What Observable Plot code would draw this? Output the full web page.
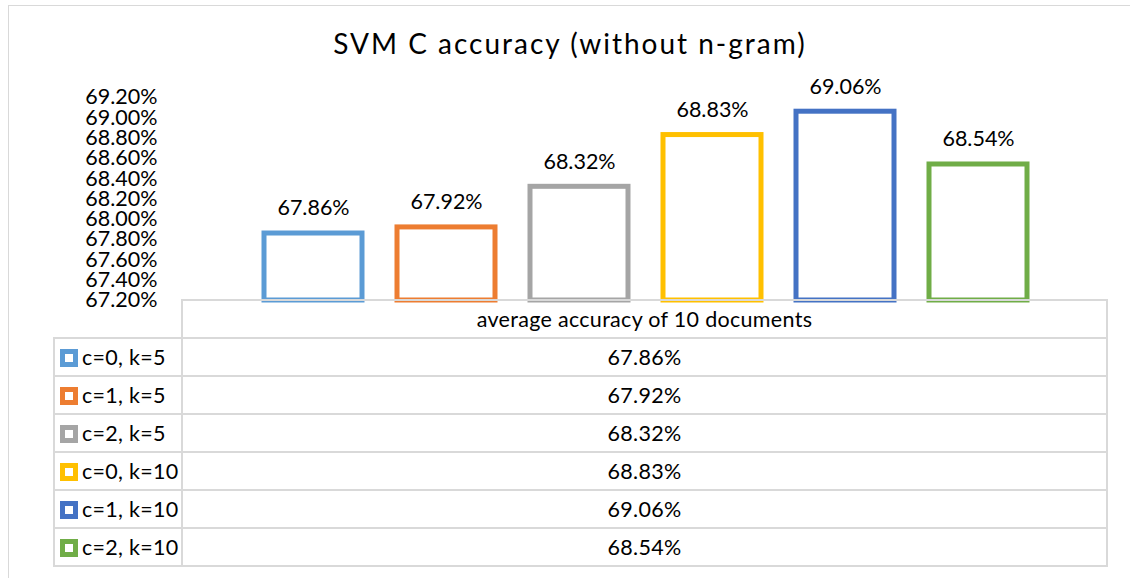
<!DOCTYPE html>
<html><head><meta charset="utf-8">
<script src="https://cdn.jsdelivr.net/npm/d3@7"></script>
<script src="https://cdn.jsdelivr.net/npm/@observablehq/plot@0.6"></script>
<style>
body{margin:0;background:#fff;font-family:Lato,sans-serif;}
#wrap{position:relative;width:1130px;height:578px;overflow:hidden;background:#fff;}
#frame{position:absolute;left:8px;top:5px;width:1300px;height:700px;border:1px solid #d9d9d9;box-sizing:border-box;}
#chart{position:absolute;left:0;top:0;}
#tbl{position:absolute;left:53px;top:299px;border-collapse:collapse;table-layout:fixed;font-size:21.5px;letter-spacing:0.3px;color:#000;font-family:Lato,sans-serif;}
#tbl td{border:2px solid #d9d9d9;height:36px;padding:0;}
#tbl td.blank{border-top:hidden;border-left:hidden;}
#tbl td.lab{padding-left:5px;white-space:nowrap;}
#tbl td.val{text-align:center;}
.sw{display:inline-block;width:8px;height:8px;border:5px solid;vertical-align:-2px;margin-right:4px;background:#fff;}
</style>
</head><body>
<div id="wrap"><div id="frame"></div><div id="chart"></div><table id="tbl"><colgroup><col style="width:128px"><col style="width:925px"></colgroup><tbody></tbody></table></div>
<script>
const series = ["c=0, k=5","c=1, k=5","c=2, k=5","c=0, k=10","c=1, k=10","c=2, k=10"];
const values = [67.86, 67.92, 68.32, 68.83, 69.06, 68.54];
const colors = ["#5B9BD5","#ED7D31","#A5A5A5","#FFC000","#4472C4","#70AD47"];
const yTicks = [67.2, 67.4, 67.6, 67.8, 68.0, 68.2, 68.4, 68.6, 68.8, 69.0, 69.2];
const title = "SVM C accuracy (without n-gram)";
const category = "average accuracy of 10 documents";
const fmt = v => v.toFixed(2) + "%";
const data = series.map((s, i) => ({series: s, value: values[i]}));

const chart = Plot.plot({
  width: 1130, height: 305,
  marginLeft: 160, marginRight: 151, marginTop: 97, marginBottom: 5,
  style: {fontFamily: "Lato, sans-serif", fontSize: "21.5px", color: "#000", background: "transparent", overflow: "visible"},
  x: {type: "band", domain: series, range: [262.5, 1027.5], paddingInner: 0.265, paddingOuter: 0, axis: null},
  y: {domain: [yTicks[0], yTicks[yTicks.length - 1]], range: [300, 97], ticks: yTicks, tickFormat: fmt, tickSize: 0, tickPadding: 3, label: null},
  color: {domain: series, range: colors},
  marks: [
    Plot.barY(data, {x: "series", y1: yTicks[0], y2: "value", fill: "white", stroke: "series", strokeWidth: 5}),
    Plot.text(data, {x: "series", y: "value", text: d => fmt(d.value), dy: -25, fontSize: 21.5, fill: "#000"}),
    Plot.text([title], {frameAnchor: "top", dy: -52, lineAnchor: "middle", fontSize: 28, fill: "#000", style: "letter-spacing:2px"})
  ]
});
document.getElementById("chart").appendChild(chart);
d3.select(chart).selectAll("text").filter(function() { return this.textContent === title; }).style("letter-spacing", "2px");

const tbody = document.querySelector("#tbl tbody");
let html = `<tr><td class="blank"></td><td class="val">${category}</td></tr>`;
series.forEach((s, i) => {
  html += `<tr><td class="lab"><span class="sw" style="border-color:${colors[i]}"></span>${s}</td><td class="val">${fmt(values[i])}</td></tr>`;
});
tbody.innerHTML = html;
</script>
</body></html>
